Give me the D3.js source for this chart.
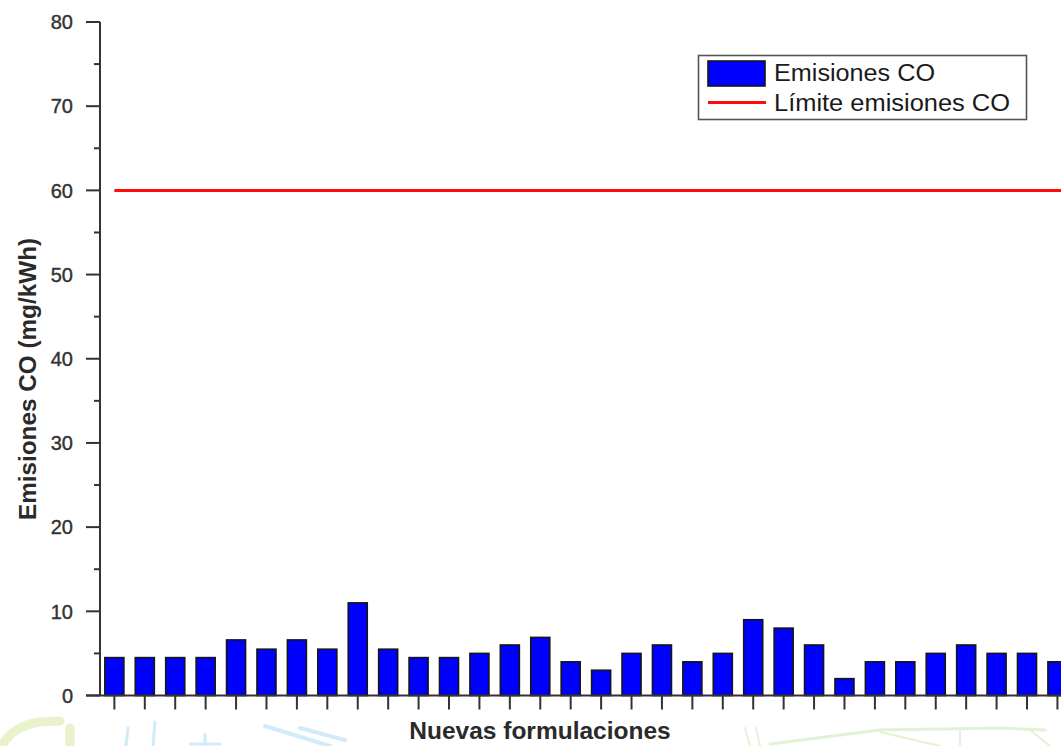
<!DOCTYPE html>
<html>
<head>
<meta charset="utf-8">
<script src="https://cdn.jsdelivr.net/npm/d3@7"></script>
<style>
  html, body { margin: 0; padding: 0; background: #fff; }
  svg { display: block; }
  text { font-family: "Liberation Sans", Arial, sans-serif; }
</style>
</head>
<body>
<svg id="chart" width="1061" height="746"></svg>
<script>
// CO emissions for each new formulation (mg/kWh)
const formulations = d3.range(1, 33).map(i => "F" + i);
const coEmissions = [4.5, 4.5, 4.5, 4.5, 6.6, 5.5, 6.6, 5.5, 11, 5.5, 4.5, 4.5, 5, 6, 6.9, 4,
                     3, 5, 6, 4, 5, 9, 8, 6, 2, 4, 4, 5, 6, 5, 5, 4];
const coLimit = 60;
const yTicks = [0, 10, 20, 30, 40, 50, 60, 70, 80];
const yMinorTicks = [5, 15, 25, 35, 45, 55, 65, 75];
const legendLabels = ["Emisiones CO", "Límite emisiones CO"];

const svg = d3.select("#chart");
const axisColor = "#333";
const textColor = "#2a2a2a";

const x = d3.scaleBand()
  .domain(formulations)
  .range([100, 1071.8])
  .paddingInner(0.375)
  .paddingOuter(0.16);

const y = d3.scaleLinear().domain([0, 80]).range([695.5, 22]);

// faint background artwork along the bottom edge
const deco = svg.append("g").attr("fill", "none").attr("stroke-linecap", "round");
deco.append("path").attr("d", "M2,746 Q10,728 38,722 L60,721").attr("stroke", "#e8f2cc").attr("stroke-width", 9);
deco.append("path").attr("d", "M70,728 L70,746").attr("stroke", "#e8f2cc").attr("stroke-width", 9);
deco.append("path").attr("d", "M128,728 L126,746 M155,722 L153,746").attr("stroke", "#d3eaf8").attr("stroke-width", 3);
deco.append("path").attr("d", "M205,734 L205,746 M190,744 L220,744").attr("stroke", "#d3eaf8").attr("stroke-width", 3);
deco.append("path").attr("d", "M265,726 L330,746 M300,728 L345,740").attr("stroke", "#d3eaf8").attr("stroke-width", 4);
deco.append("path").attr("d", "M745,728 L750,746 M756,728 L760,746").attr("stroke", "#e2f3d4").attr("stroke-width", 2);
deco.append("path").attr("d", "M770,744 L880,730 L1000,728 L1045,730").attr("stroke", "#e2f3d4").attr("stroke-width", 3);
deco.append("path").attr("d", "M880,732 L940,746 M960,730 L960,746 M1030,730 L1050,746").attr("stroke", "#e2f3d4").attr("stroke-width", 2);

// bars
svg.append("g")
  .selectAll("rect")
  .data(coEmissions)
  .join("rect")
  .attr("x", (d, i) => x(formulations[i]))
  .attr("y", d => y(d))
  .attr("width", x.bandwidth())
  .attr("height", d => y(0) - y(d))
  .attr("fill", "#0000ff")
  .attr("stroke", "#151515")
  .attr("stroke-width", 1.6);

// emission limit line
svg.append("line")
  .attr("x1", x(formulations[0]) + x.bandwidth() / 2)
  .attr("x2", 1061)
  .attr("y1", y(coLimit))
  .attr("y2", y(coLimit))
  .attr("stroke", "#ff0d0d")
  .attr("stroke-width", 3);

// y axis
const yAxis = svg.append("g").attr("transform", "translate(100,0)");
yAxis.append("line")
  .attr("x1", 0).attr("x2", 0)
  .attr("y1", y(80)).attr("y2", y(0))
  .attr("stroke", axisColor).attr("stroke-width", 2);
yAxis.selectAll("line.major")
  .data(yTicks)
  .join("line")
  .attr("class", "major")
  .attr("x1", -14).attr("x2", 0)
  .attr("y1", d => y(d)).attr("y2", d => y(d))
  .attr("stroke", axisColor).attr("stroke-width", 2);
yAxis.selectAll("line.minor")
  .data(yMinorTicks)
  .join("line")
  .attr("class", "minor")
  .attr("x1", -6).attr("x2", 0)
  .attr("y1", d => y(d)).attr("y2", d => y(d))
  .attr("stroke", axisColor).attr("stroke-width", 2);
yAxis.selectAll("text")
  .data(yTicks)
  .join("text")
  .attr("x", -27)
  .attr("y", d => y(d))
  .attr("dy", "0.36em")
  .attr("text-anchor", "end")
  .attr("font-size", 20)
  .attr("fill", "#333")
  .attr("stroke", "#333")
  .attr("stroke-width", 0.4)
  .text(d => d);

// x axis
const xAxis = svg.append("g");
xAxis.append("line")
  .attr("x1", 86).attr("x2", 1061)
  .attr("y1", y(0)).attr("y2", y(0))
  .attr("stroke", axisColor).attr("stroke-width", 2);
xAxis.selectAll("line.tick")
  .data(formulations)
  .join("line")
  .attr("class", "tick")
  .attr("x1", d => x(d) + x.bandwidth() / 2)
  .attr("x2", d => x(d) + x.bandwidth() / 2)
  .attr("y1", y(0)).attr("y2", y(0) + 14)
  .attr("stroke", axisColor).attr("stroke-width", 2);

// axis titles
svg.append("text")
  .attr("transform", "translate(36,379) rotate(-90)")
  .attr("text-anchor", "middle")
  .attr("font-size", 24.3)
  .attr("font-weight", "bold")
  .attr("fill", textColor)
  .text("Emisiones CO (mg/kWh)");

svg.append("text")
  .attr("x", 540)
  .attr("y", 739)
  .attr("text-anchor", "middle")
  .attr("font-size", 24.5)
  .attr("font-weight", "bold")
  .attr("fill", textColor)
  .text("Nuevas formulaciones");

// legend
const legend = svg.append("g");
legend.append("rect")
  .attr("x", 698.5).attr("y", 55.5)
  .attr("width", 328).attr("height", 64)
  .attr("fill", "#fff")
  .attr("stroke", "#555").attr("stroke-width", 1.6);
legend.append("rect")
  .attr("x", 708).attr("y", 61)
  .attr("width", 57).attr("height", 25)
  .attr("fill", "#0000ff")
  .attr("stroke", "#151515").attr("stroke-width", 1.6);
legend.append("line")
  .attr("x1", 708).attr("x2", 766)
  .attr("y1", 102.5).attr("y2", 102.5)
  .attr("stroke", "#ff0d0d").attr("stroke-width", 3);
const legendWidths = [161, 236];
legend.selectAll("text")
  .data(legendLabels)
  .join("text")
  .attr("x", 774)
  .attr("y", (d, i) => 81 + i * 30)
  .attr("font-size", 23)
  .attr("textLength", (d, i) => legendWidths[i])
  .attr("lengthAdjust", "spacingAndGlyphs")
  .attr("fill", "#1a1a1a")
  .text(d => d);
</script>
</body>
</html>
